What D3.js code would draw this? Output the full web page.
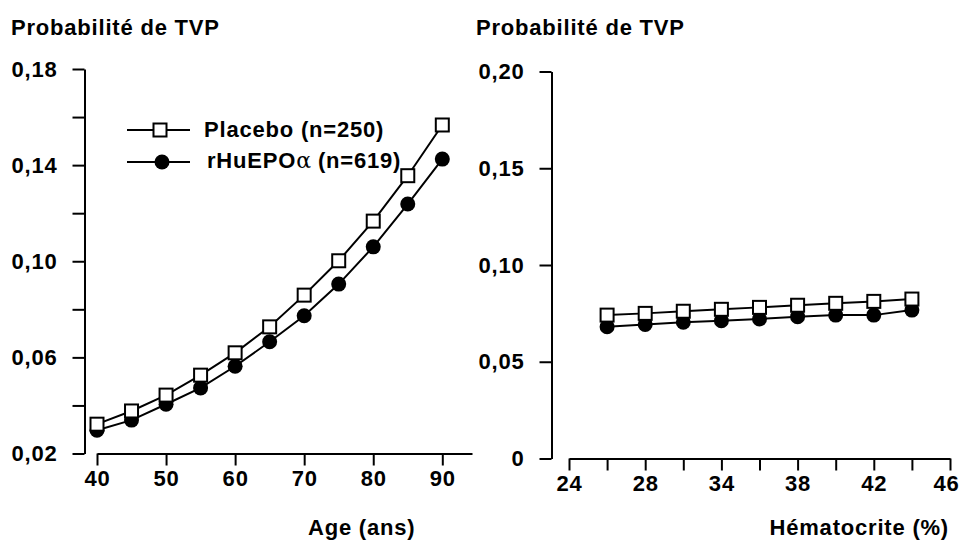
<!DOCTYPE html>
<html>
<head>
<meta charset="utf-8">
<script src="https://cdn.jsdelivr.net/npm/d3@7/dist/d3.min.js"></script>
<style>
  html, body { margin: 0; padding: 0; background: #fff; }
  svg { display: block; }
  text { font-family: "Liberation Sans", Arial, sans-serif; font-weight: bold; fill: #000; letter-spacing: 0.8px; }
</style>
</head>
<body>
<svg id="chart" width="960" height="541"></svg>
<script>
// ---- Data ----
const ages = [40, 45, 50, 55, 60, 65, 70, 75, 80, 85, 90];
const agePlacebo = [0.0322, 0.0377, 0.0443, 0.0526, 0.0619, 0.0727, 0.0859, 0.1002, 0.1167, 0.1356, 0.1567];
const ageEpo     = [0.0297, 0.0339, 0.0405, 0.0473, 0.0563, 0.0665, 0.0773, 0.0905, 0.1060, 0.1238, 0.1425];
const ageTicks = [40, 50, 60, 70, 80, 90];
const ageYTicks = [0.02, 0.04, 0.06, 0.08, 0.10, 0.12, 0.14, 0.16, 0.18];
const ageYLabelled = [0.02, 0.06, 0.10, 0.14, 0.18];

// Hematocrit axis: 11 evenly spaced ticks, only every other one labelled
const hctTickLabels = ["24", "", "28", "", "34", "", "38", "", "42", "", "46"];
const hctPositions = [1, 2, 3, 4, 5, 6, 7, 8, 9];   // tick slots holding points
const hctPlacebo = [0.0741, 0.0750, 0.0761, 0.0771, 0.0781, 0.0792, 0.0802, 0.0812, 0.0824];
const hctEpo     = [0.0681, 0.0693, 0.0704, 0.0712, 0.0721, 0.0733, 0.0741, 0.0741, 0.0767];
const hctYTicks = [0, 0.05, 0.10, 0.15, 0.20];

const yTitle = "Probabilité de TVP";
const legendPlacebo = "Placebo (n=250)";
const legendEpoMain = "rHuEPO";
const legendEpoAlpha = "α";
const legendEpoTail = " (n=619)";

const fmt = v => v === 0 ? "0" : d3.format(".2f")(v).replace(".", ",");

const svg = d3.select("#chart");
const SQ = 13, R = 7.5, SW = 2, FS = "22px";

function drawSeries(g, x, y, xs, ysP, ysE) {
  const line = d3.line().x((d, i) => x(xs[i])).y(d => y(d));
  g.append("path").datum(ysP).attr("d", line).attr("fill", "none").attr("stroke", "#000").attr("stroke-width", SW);
  g.append("path").datum(ysE).attr("d", line).attr("fill", "none").attr("stroke", "#000").attr("stroke-width", SW);
  g.selectAll(".c").data(ysE).enter().append("circle")
    .attr("cx", (d, i) => x(xs[i])).attr("cy", d => y(d)).attr("r", R).attr("fill", "#000");
  g.selectAll(".s").data(ysP).enter().append("rect")
    .attr("x", (d, i) => x(xs[i]) - SQ / 2).attr("y", d => y(d) - SQ / 2)
    .attr("width", SQ).attr("height", SQ)
    .attr("fill", "#fff").attr("stroke", "#000").attr("stroke-width", SW);
}

function styleAxis(sel) {
  sel.selectAll("path").attr("stroke", "#000").attr("stroke-width", SW);
  sel.selectAll("line").attr("stroke", "#000").attr("stroke-width", SW);
  sel.selectAll("text").style("font-size", FS);
}

// ---- Left panel: Age ----
{
  const x = d3.scaleLinear().domain([40, 94.3]).range([97, 472]);
  const y = d3.scaleLinear().domain([0.02, 0.18]).range([453.5, 69]);
  const g = svg.append("g");

  const xa = g.append("g").attr("transform", "translate(0,453.5)")
    .call(d3.axisBottom(x).tickValues(ageTicks).tickSize(12).tickSizeOuter(0).tickPadding(5).tickFormat(d3.format("d")));
  styleAxis(xa);

  const ya = g.append("g").attr("transform", "translate(84.5,0)")
    .call(d3.axisLeft(y).tickValues(ageYTicks).tickSize(12).tickSizeOuter(0).tickPadding(15)
      .tickFormat(d => ageYLabelled.some(v => Math.abs(v - d) < 1e-9) ? fmt(d) : ""));
  styleAxis(ya);

  g.append("text").attr("x", 11).attr("y", 35).style("font-size", FS).text(yTitle);
  g.append("text").attr("x", 308).attr("y", 535).style("font-size", FS).text("Age (ans)");

  drawSeries(g, x, y, ages, agePlacebo, ageEpo);

  // Legend
  const lg = g.append("g");
  lg.append("line").attr("x1", 127).attr("x2", 190).attr("y1", 130).attr("y2", 130).attr("stroke", "#000").attr("stroke-width", SW);
  lg.append("rect").attr("x", 160 - SQ / 2).attr("y", 130 - SQ / 2).attr("width", SQ).attr("height", SQ)
    .attr("fill", "#fff").attr("stroke", "#000").attr("stroke-width", SW);
  lg.append("text").attr("x", 204).attr("y", 137).style("font-size", FS).text(legendPlacebo);
  lg.append("line").attr("x1", 127).attr("x2", 190).attr("y1", 162).attr("y2", 162).attr("stroke", "#000").attr("stroke-width", SW);
  lg.append("circle").attr("cx", 162).attr("cy", 162).attr("r", R).attr("fill", "#000");
  const t = lg.append("text").attr("x", 207).attr("y", 168).style("font-size", FS);
  t.append("tspan").text(legendEpoMain);
  t.append("tspan").style("font-weight", "normal").style("font-family", "'DejaVu Serif', serif").style("letter-spacing", "0px").text(legendEpoAlpha);
  t.append("tspan").text(legendEpoTail);
}

// ---- Right panel: Hematocrit ----
{
  const x = d3.scaleLinear().domain([0, 10]).range([569, 950]);
  const y = d3.scaleLinear().domain([0, 0.20]).range([458.5, 71.5]);
  const g = svg.append("g");

  const xa = g.append("g").attr("transform", "translate(0,458.5)")
    .call(d3.axisBottom(x).tickValues(d3.range(hctTickLabels.length)).tickSize(12).tickSizeOuter(0).tickPadding(5)
      .tickFormat(i => hctTickLabels[i]));
  styleAxis(xa);
  // keep the last label inside the frame
  xa.selectAll(".tick").filter(i => i === hctTickLabels.length - 1).select("text")
    .attr("text-anchor", "end").attr("dx", "9px");

  const ya = g.append("g").attr("transform", "translate(551.5,0)")
    .call(d3.axisLeft(y).tickValues(hctYTicks).tickSize(12).tickSizeOuter(0).tickPadding(15).tickFormat(fmt));
  styleAxis(ya);

  g.append("text").attr("x", 476).attr("y", 35).style("font-size", FS).text(yTitle);
  g.append("text").attr("x", 949).attr("y", 535).attr("text-anchor", "end").style("font-size", FS).text("Hématocrite (%)");

  drawSeries(g, x, y, hctPositions, hctPlacebo, hctEpo);
}
</script>
</body>
</html>
